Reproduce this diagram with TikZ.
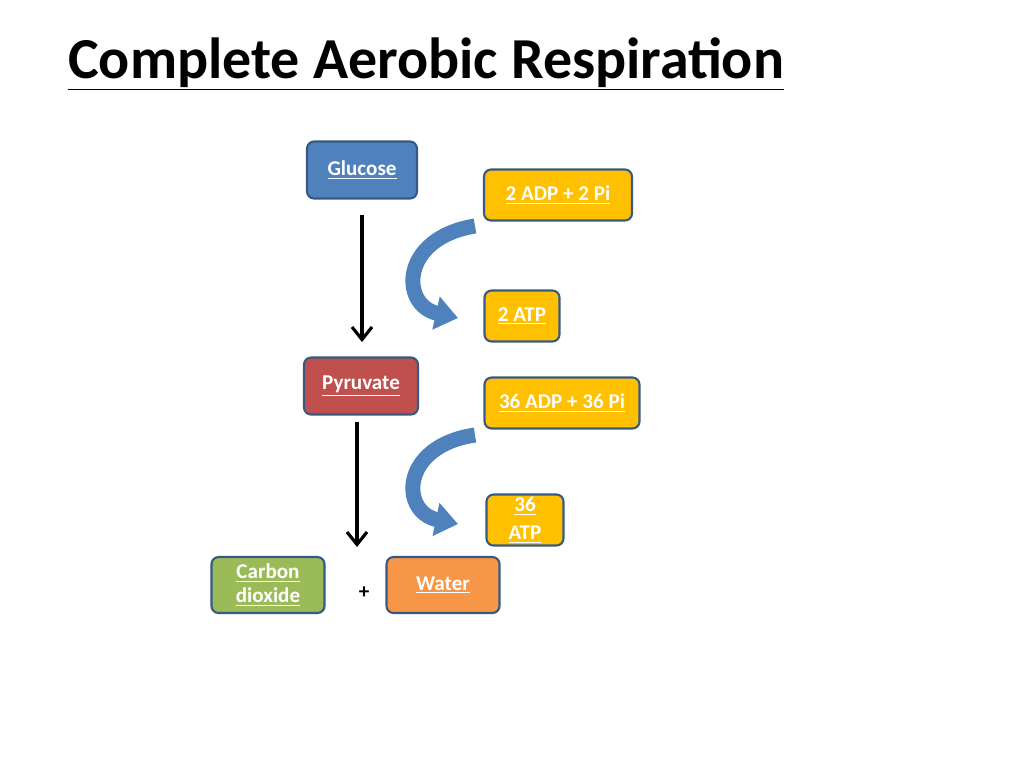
\documentclass[tikz,border=0pt]{standalone}
\usepackage{fontspec}
\setmainfont{Carlito}
\usetikzlibrary{arrows.meta}
\definecolor{gluc}{HTML}{4F81BD}
\definecolor{pyru}{HTML}{C0504D}
\definecolor{carb}{HTML}{9BBB59}
\definecolor{watr}{HTML}{F79646}
\definecolor{atpy}{HTML}{FFC000}
\begin{document}
\begin{tikzpicture}[x=0.02cm,y=-0.02cm]
  \tikzstyle{every box}=[]
  \tikzset{box/.style={draw=gluc!70!black,line width=1.2pt,rounded corners=4pt,
      text=white,font=\bfseries\fontsize{12}{14}\selectfont,align=center,inner sep=0pt},
    bend arrow/.style={gluc,line width=0.3cm,-{Triangle[length=0.45cm,width=0.65cm]}},
    down arrow/.style={line width=1.8pt,-{Straight Barb[length=0.25cm,width=0.4cm]}}}
  \useasboundingbox (0,0) rectangle (1024,768);

  \node[anchor=base west,font=\bfseries\fontsize{33}{38}\selectfont] (title) at (62,78)
       {\underline{Complete Aerobic Respiration}};

  \node[box,fill=gluc,minimum width=2.2cm,minimum height=1.14cm]  (G)  at (362,170) {\underline{Glucose}};
  \node[box,fill=atpy,minimum width=2.96cm,minimum height=1.02cm] (A1) at (558,195) {\underline{2 ADP + 2 Pi}};
  \node[box,fill=atpy,minimum width=1.5cm,minimum height=1.02cm]  (T1) at (522,316) {\underline{2 ATP}};
  \node[box,fill=pyru,minimum width=2.28cm,minimum height=1.14cm] (P)  at (361,386) {\underline{Pyruvate}};
  \node[box,fill=atpy,minimum width=3.1cm,minimum height=1.02cm]  (A2) at (562,403) {\underline{36 ADP + 36 Pi}};
  \node[box,fill=atpy,minimum width=1.54cm,minimum height=1.02cm] (T2) at (525,520) {\underline{36}\\[2pt]\underline{ATP}};
  \node[box,fill=carb,minimum width=2.26cm,minimum height=1.12cm] (C)  at (268,585) {\underline{Carbon}\\\underline{dioxide}};
  \node[box,fill=watr,minimum width=2.26cm,minimum height=1.12cm] (W)  at (443,585) {\underline{Water}};
  \node[font=\bfseries\fontsize{12}{14}\selectfont] (plus) at (364,593) {+};

  \coordinate (g1) at (362,215);
  \coordinate (g2) at (362,342);
  \coordinate (p1) at (357,422);
  \coordinate (p2) at (357,547);
  \draw[down arrow] (g1) -- (g2);
  \draw[down arrow] (p1) -- (p2);

  \coordinate (s1) at (475,226);
  \coordinate (e1) at (458,318);
  \coordinate (s2) at (475,435);
  \coordinate (e2) at (458,524);
  \draw[bend arrow] (s1) .. controls (400,238) and (400,305) .. (e1);
  \draw[bend arrow] (s2) .. controls (400,446) and (400,512) .. (e2);
\end{tikzpicture}
\end{document}
